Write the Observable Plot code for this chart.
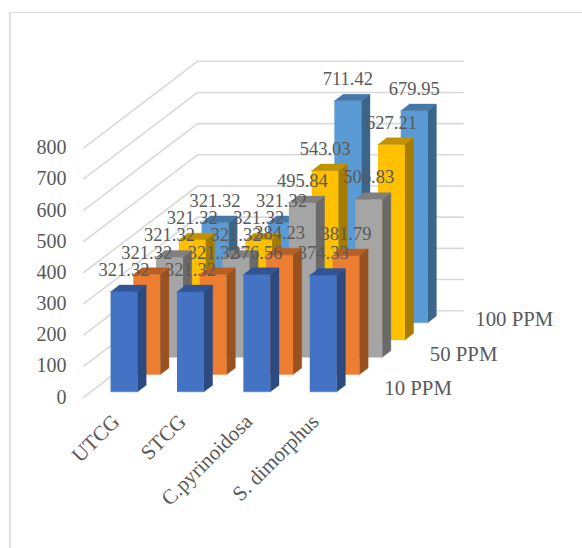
<!DOCTYPE html>
<html>
<head>
<meta charset="utf-8">
<script src="https://cdn.jsdelivr.net/npm/d3@7"></script>
<script src="https://cdn.jsdelivr.net/npm/@observablehq/plot@0.6"></script>
<style>
html,body{margin:0;padding:0;background:#fff;overflow:hidden}
#wrap{position:relative;width:582px;height:548px}
#border{position:absolute;left:9px;top:12px;right:0;bottom:0;border-top:1.5px solid #dcdcdc;border-left:2.5px solid #e2e2e2}
svg{position:absolute;left:0;top:0}
</style>
</head>
<body>
<div id="wrap"><div id="border"></div></div>
<script>
const categories = ["UTCG", "STCG", "C.pyrinoidosa", "S. dimorphus"];
const ppm10  = [321.32, 321.32, 376.56, 374.33];
const ppm25  = [321.32, 321.32, 384.23, 381.79];
const ppm50  = [321.32, 321.32, 495.84, 506.83];
const ppm75  = [321.32, 321.32, 543.03, 627.21];
const ppm100 = [321.32, 321.32, 711.42, 679.95];
const seriesValues = [ppm10, ppm25, ppm50, ppm75, ppm100];
const depthLabels = ["10 PPM", "50 PPM", "100 PPM"];
const depthIndex = [0, 2, 4];
const yTicks = [0, 100, 200, 300, 400, 500, 600, 700, 800];
const frontColors = ["#4472C4", "#ED7D31", "#A5A5A5", "#FFC000", "#5B9BD5"];
const sideColors  = ["#2A4A80", "#98511F", "#6A6A6A", "#A67C00", "#3B658A"];
const topColors   = ["#2F5597", "#B85F24", "#7F7F7F", "#C29200", "#4577A8"];

// oblique projection: one depth step shifts a point in category and value units
const depthX = 0.3426, depthY = 55.5;
const projX = (c, d) => c + d * depthX;
const projY = (v, d) => v + d * depthY;
const barL = 0.297, barR = 0.703, depthF = 0.31, depthB = 0.69;
const depthCount = seriesValues.length, catCount = categories.length;

const polys = [];
const addPoly = (id, color, pts) => pts.forEach(([c, d, v]) => polys.push({id, color, x: projX(c, d), y: projY(v, d)}));
for (let s = depthCount - 1; s >= 0; s--) {
  seriesValues[s].forEach((v, i) => {
    const l = i + barL, r = i + barR, f = s + depthF, b = s + depthB;
    addPoly(`${s}-${i}-front`, frontColors[s], [[l, f, 0], [r, f, 0], [r, f, v], [l, f, v]]);
    addPoly(`${s}-${i}-side`, sideColors[s], [[r, f, 0], [r, b, 0], [r, b, v], [r, f, v]]);
    addPoly(`${s}-${i}-top`, topColors[s], [[l, f, v], [r, f, v], [r, b, v], [l, b, v]]);
  });
}

const grid = [];
yTicks.forEach(v => {
  grid.push({v, x: projX(0, 0), y: projY(v, 0)});
  grid.push({v, x: projX(0, depthCount), y: projY(v, depthCount)});
  grid.push({v, x: projX(catCount, depthCount), y: projY(v, depthCount)});
});

const barLabels = [];
seriesValues.forEach((vals, s) => vals.forEach((v, i) => barLabels.push({
  text: v.toFixed(2), x: projX(i + 0.5, s + depthF), y: projY(v, s + depthF)
})));

const serif = "'Liberation Serif','Times New Roman',serif";
const chart = Plot.plot({
  width: 582, height: 548,
  marginLeft: 66, marginRight: 0, marginTop: 0, marginBottom: 0,
  style: {background: "none", fontFamily: serif},
  x: {domain: [0, 4], range: [83.3, 348.9], axis: null},
  y: {domain: [0, 800], range: [396.7, 147.3], axis: null},
  color: {type: "identity"},
  marks: [
    Plot.line(grid, {x: "x", y: "y", z: "v", stroke: "#d9d9d9", strokeWidth: 1.6}),
    Plot.axisY(yTicks, {anchor: "left", tickSize: 0, tickPadding: 0, label: null, fontSize: 20, fill: "#595959", fontFamily: serif}),
    Plot.line(polys, {x: "x", y: "y", z: "id", fill: "color", stroke: "color", strokeWidth: 0.4}),
    Plot.text(categories, {
      x: (d, i) => i + 0.5, y: () => 0, text: d => d, rotate: -45, textAnchor: "end",
      dx: -1, dy: 21, fontSize: 21, fill: "#595959", fontFamily: serif
    }),
    Plot.text(depthLabels, {
      x: (d, i) => projX(catCount, depthIndex[i] + 0.5), y: (d, i) => projY(0, depthIndex[i] + 0.5), text: d => d,
      textAnchor: "start", dx: 23.5, dy: 0, fontSize: 20.8, fill: "#595959", fontFamily: serif
    }),
    Plot.text(barLabels, {x: "x", y: "y", text: "text", dy: -21.7, fontSize: 18.5, fill: "#595959", fontFamily: serif})
  ]
});
document.getElementById("wrap").appendChild(chart);
</script>
</body>
</html>
